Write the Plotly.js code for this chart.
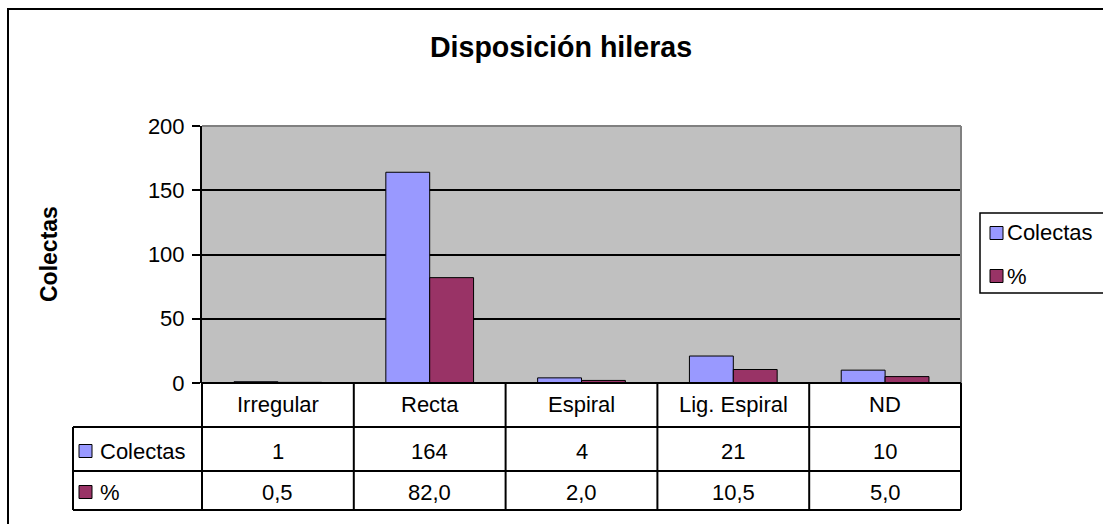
<!DOCTYPE html>
<html>
<head>
<meta charset="utf-8">
<script src="https://cdn.plot.ly/plotly-3.0.1.min.js"></script>
<style>html,body{margin:0;padding:0;background:#fff;}#chart{width:1103px;height:524px;}</style>
</head>
<body>
<div id="chart"></div>
<script>
// ---- data ----
const categories = ["Irregular", "Recta", "Espiral", "Lig. Espiral", "ND"];
const colectas = [1, 164, 4, 21, 10];
const porcentaje = [0.5, 82.0, 2.0, 10.5, 5.0];
const seriesNames = ["Colectas", "%"];
const yTicks = [0, 50, 100, 150, 200];

// ---- helpers (pixel -> paper) ----
const W = 1103, H = 524;
const px = x => x / W;
const py = y => 1 - y / H;
const FONT = "Liberation Sans, Arial, sans-serif";
const colors = ["#9999FF", "#993366"];

const traces = [
  {type: "bar", name: seriesNames[0], x: categories, y: colectas,
   marker: {color: colors[0], line: {color: "#000", width: 1}}, hoverinfo: "x+y"},
  {type: "bar", name: seriesNames[1], x: categories, y: porcentaje,
   marker: {color: colors[1], line: {color: "#000", width: 1}}, hoverinfo: "x+y"}
];

const shapes = [];
const annotations = [];
const L = {color: "#000", width: 2};

// outer chart border
shapes.push({type: "rect", xref: "paper", yref: "paper", x0: px(8), x1: px(1112), y0: py(534), y1: py(9),
  line: {color: "#000", width: 2}, fillcolor: "rgba(0,0,0,0)", layer: "below"});
// plot area border (gray) top and right
shapes.push({type: "line", xref: "x domain", yref: "y domain", x0: 0, x1: 1, y0: 1, y1: 1, line: {color: "#808080", width: 2}, layer: "above"});
shapes.push({type: "line", xref: "x domain", yref: "y domain", x0: 1, x1: 1, y0: 0, y1: 1, line: {color: "#808080", width: 2}, layer: "above"});

// data table lines
const tableTop = 383, r1 = 427, r2 = 471, r3 = 510, keyLeft = 73;
shapes.push({type: "line", xref: "x domain", yref: "paper", x0: 0, x1: 1, y0: py(tableTop), y1: py(tableTop), line: L});
[r1, r2, r3].forEach(r => shapes.push({type: "line", xref: "paper", yref: "paper", x0: px(keyLeft), x1: px(961), y0: py(r), y1: py(r), line: L}));
shapes.push({type: "line", xref: "paper", yref: "paper", x0: px(keyLeft), x1: px(keyLeft), y0: py(r1), y1: py(r3), line: L});
shapes.push({type: "line", xref: "x domain", yref: "paper", x0: 0, x1: 0, y0: py(tableTop), y1: py(r3), line: L});
shapes.push({type: "line", xref: "x domain", yref: "paper", x0: 1, x1: 1, y0: py(tableTop), y1: py(r3), line: L});
for (let i = 0; i < categories.length - 1; i++) {
  shapes.push({type: "line", xref: "x", yref: "paper", x0: i + 0.5, x1: i + 0.5, y0: py(tableTop), y1: py(r3), line: L});
}

const tfont = {family: FONT, size: 22, color: "#000"};
const rowY = [404, 451, 492];
categories.forEach((c, i) => {
  annotations.push({xref: "x", yref: "paper", x: i, y: py(rowY[0]), text: c, showarrow: false, font: tfont, xanchor: "center", yanchor: "middle"});
  annotations.push({xref: "x", yref: "paper", x: i, y: py(rowY[1]), text: String(colectas[i]), showarrow: false, font: tfont, xanchor: "center", yanchor: "middle"});
  annotations.push({xref: "x", yref: "paper", x: i, y: py(rowY[2]), text: porcentaje[i].toFixed(1).replace(".", ","), showarrow: false, font: tfont, xanchor: "center", yanchor: "middle"});
});
// key column of the data table
seriesNames.forEach((n, k) => {
  const cy = rowY[k + 1];
  shapes.push({type: "rect", xref: "paper", yref: "paper", x0: px(79), x1: px(92), y0: py(cy + 6.5), y1: py(cy - 6.5),
    fillcolor: colors[k], line: {color: "#000", width: 1}});
  annotations.push({xref: "paper", yref: "paper", x: px(98), y: py(cy), text: n, showarrow: false, font: tfont, xanchor: "left", yanchor: "middle"});
});

// legend (box at right, drawn as in the reference)
shapes.push({type: "rect", xref: "paper", yref: "paper", x0: px(980), x1: px(1115), y0: py(293), y1: py(213),
  fillcolor: "#fff", line: {color: "#000", width: 1.5}});
const legY = [233, 276];
seriesNames.forEach((n, k) => {
  const cy = legY[k];
  shapes.push({type: "rect", xref: "paper", yref: "paper", x0: px(990), x1: px(1003), y0: py(cy + 6.5), y1: py(cy - 6.5),
    fillcolor: colors[k], line: {color: "#000", width: 1}});
  annotations.push({xref: "paper", yref: "paper", x: px(1005), y: py(cy), text: n, showarrow: false, font: tfont, xanchor: "left", yanchor: "middle"});
});

// y-axis title
annotations.push({xref: "paper", yref: "paper", x: px(49), y: py(254), text: "Colectas", textangle: -90, showarrow: false,
  font: {family: FONT, size: 23, color: "#000", weight: "bold"}, xanchor: "center", yanchor: "middle"});

const layout = {
  width: W, height: H,
  margin: {l: 0, r: 0, t: 0, b: 0, autoexpand: false},
  paper_bgcolor: "#fff",
  plot_bgcolor: "#C0C0C0",
  font: {family: FONT, size: 22, color: "#000"},
  title: {text: "Disposición hileras", x: px(561), y: py(47), xanchor: "center", yanchor: "middle", xref: "paper", yref: "paper",
    font: {family: FONT, size: 28.6, color: "#000", weight: "bold"}},
  barmode: "group", bargap: 0.422, bargroupgap: 0,
  xaxis: {domain: [px(202), px(961)], range: [-0.5, 4.5], showticklabels: false, ticks: "", showgrid: false, zeroline: false, showline: false, fixedrange: true},
  yaxis: {domain: [py(383), py(126)], range: [0, 200], tickvals: yTicks, ticks: "outside", ticklen: 8, tickwidth: 2, tickcolor: "#000",
    showline: true, linecolor: "#000", linewidth: 2, showgrid: true, gridcolor: "#000", gridwidth: 2, zeroline: false,
    tickfont: {family: FONT, size: 22, color: "#000"}, ticklabelstandoff: 3, fixedrange: true},
  showlegend: false,
  shapes: shapes,
  annotations: annotations
};

Plotly.newPlot("chart", traces, layout, {displayModeBar: false, staticPlot: true});
</script>
</body>
</html>
